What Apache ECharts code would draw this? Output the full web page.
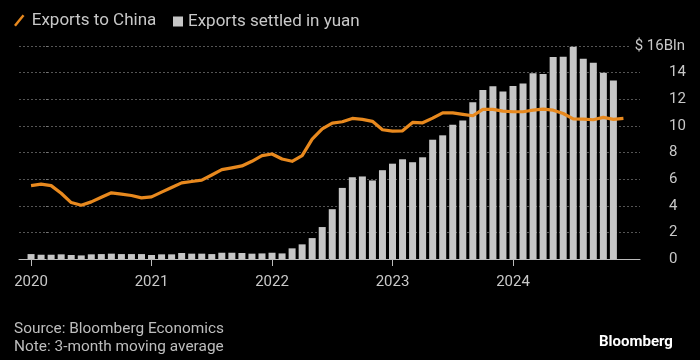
<!DOCTYPE html>
<html>
<head>
<meta charset="utf-8">
<script src="https://cdn.jsdelivr.net/npm/echarts@6/dist/echarts.min.js"></script>
<style>
html,body{margin:0;padding:0;background:#000;}
#c{width:700px;height:360px;}
</style>
</head>
<body>
<div id="c"></div>
<script>
// Month index 0 = Jan 2020
var tickMonths = [0, 12, 24, 36, 48];
var tickLabels = ['2020', '2021', '2022', '2023', '2024'];

// Exports settled in yuan, $ Bln (Jan 2020 .. Nov 2024)
var yuanSettled = [
  0.37, 0.32, 0.32, 0.35, 0.30, 0.27, 0.35, 0.37, 0.40, 0.37, 0.37, 0.37,
  0.30, 0.35, 0.35, 0.45, 0.40, 0.40, 0.37, 0.47, 0.47, 0.45, 0.40, 0.42,
  0.47, 0.42, 0.80, 1.10, 1.57, 2.40, 3.74, 5.34, 6.14, 6.20, 5.90, 6.67,
  7.16, 7.49, 7.27, 7.64, 8.96, 9.29, 10.08, 10.41, 11.78, 12.70, 12.98, 12.58,
  13.00, 13.18, 13.95, 13.90, 15.18, 15.20, 15.95, 15.05, 14.75, 14.00, 13.40
];

// Exports to China, $ Bln, 3-month moving average (Jan 2020 .. Dec 2024)
var exportsChina = [
  5.51, 5.62, 5.51, 4.94, 4.24, 4.04, 4.29, 4.64, 4.97, 4.87, 4.77, 4.59,
  4.67, 5.02, 5.37, 5.72, 5.82, 5.92, 6.31, 6.71, 6.85, 6.99, 7.34, 7.76,
  7.89, 7.51, 7.34, 7.76, 9.01, 9.78, 10.21, 10.31, 10.56, 10.49, 10.34, 9.71,
  9.61, 9.63, 10.26, 10.23, 10.58, 10.98, 10.98, 10.87, 10.76, 11.24, 11.24, 11.11,
  11.06, 11.06, 11.18, 11.26, 11.18, 10.93, 10.53, 10.51, 10.46, 10.64, 10.49, 10.56
];

var FONT = 'Roboto, "Liberation Sans", sans-serif';
var TXT = '#c8c8c8';

var chart = echarts.init(document.getElementById('c'), null, {renderer: 'canvas'});
chart.setOption({
  backgroundColor: '#000',
  animation: false,
  textStyle: {fontFamily: FONT},
  title: [
    {text: 'Source: Bloomberg Economics\nNote: 3-month moving average', left: 14, top: 320, padding: 0,
     textStyle: {fontFamily: FONT, fontSize: 15.4, lineHeight: 18, fontWeight: 'normal', color: '#bdbdbd'}},
    {text: 'Bloomberg', left: 599, top: 335, padding: 0,
     textStyle: {fontFamily: FONT, fontSize: 15, fontWeight: 'bold', color: '#ffffff'}}
  ],
  legend: [
    {data: [{name: 'Exports to China', icon: 'path://M0,11 L9,0 L11,1.6 L2,12.6 Z'}],
     left: 14, top: 12, padding: 0, itemWidth: 15, itemHeight: 12,
     textStyle: {fontFamily: FONT, fontSize: 17, color: TXT}},
    {data: [{name: 'Exports settled in yuan', icon: 'rect'}],
     left: 173, top: 13, padding: 0, itemWidth: 10, itemHeight: 10,
     textStyle: {fontFamily: FONT, fontSize: 17, color: TXT}}
  ],
  grid: {left: 19, top: 46, width: 621, height: 213},
  xAxis: {
    type: 'value', min: -1.2, max: 60.65,
    splitLine: {show: false},
    axisLine: {show: true, lineStyle: {color: '#bbbbbb', width: 1}},
    axisTick: {show: true, customValues: tickMonths, length: 7, lineStyle: {color: '#bbbbbb'}},
    axisLabel: {customValues: tickMonths, margin: 16, fontSize: 15, color: TXT, fontFamily: FONT,
      formatter: function (v) { var i = tickMonths.indexOf(v); return i >= 0 ? tickLabels[i] : ''; }}
  },
  yAxis: [
    {type: 'value', position: 'right', min: 0, max: 16, interval: 2,
     axisLine: {show: false},
     axisTick: {show: true, length: 17, lineStyle: {color: '#777', type: [0, 15, 2, 100]}},
     splitLine: {show: true, lineStyle: {color: '#555', type: [2, 2], width: 1}},
     axisLabel: {align: 'left', margin: 29, fontSize: 15, color: TXT, fontFamily: FONT,
       formatter: function (v) { return v === 16 ? '' : String(v); }}},
    {type: 'value', position: 'right', min: 0, max: 16, interval: 2,
     axisLine: {show: false}, axisTick: {show: false}, splitLine: {show: false},
     axisLabel: {align: 'right', margin: 45, fontSize: 15, color: TXT, fontFamily: FONT,
       backgroundColor: '#000', padding: [0, 0, 0, 5],
       formatter: function (v) { return v === 16 ? '$ 16Bln' : ''; }}}
  ],
  series: [
    {name: 'Exports settled in yuan', type: 'bar', barWidth: 7,
     itemStyle: {color: '#c6c6c6'},
     data: yuanSettled.map(function (v, i) { return [i, v]; })},
    {name: 'Exports to China', type: 'line', showSymbol: false, symbol: 'none',
     lineStyle: {color: '#e8891e', width: 3.2, join: 'round'}, itemStyle: {color: '#e8891e'},
     z: 3,
     data: exportsChina.map(function (v, i) { return [i, v]; })}
  ]
});
</script>
</body>
</html>
